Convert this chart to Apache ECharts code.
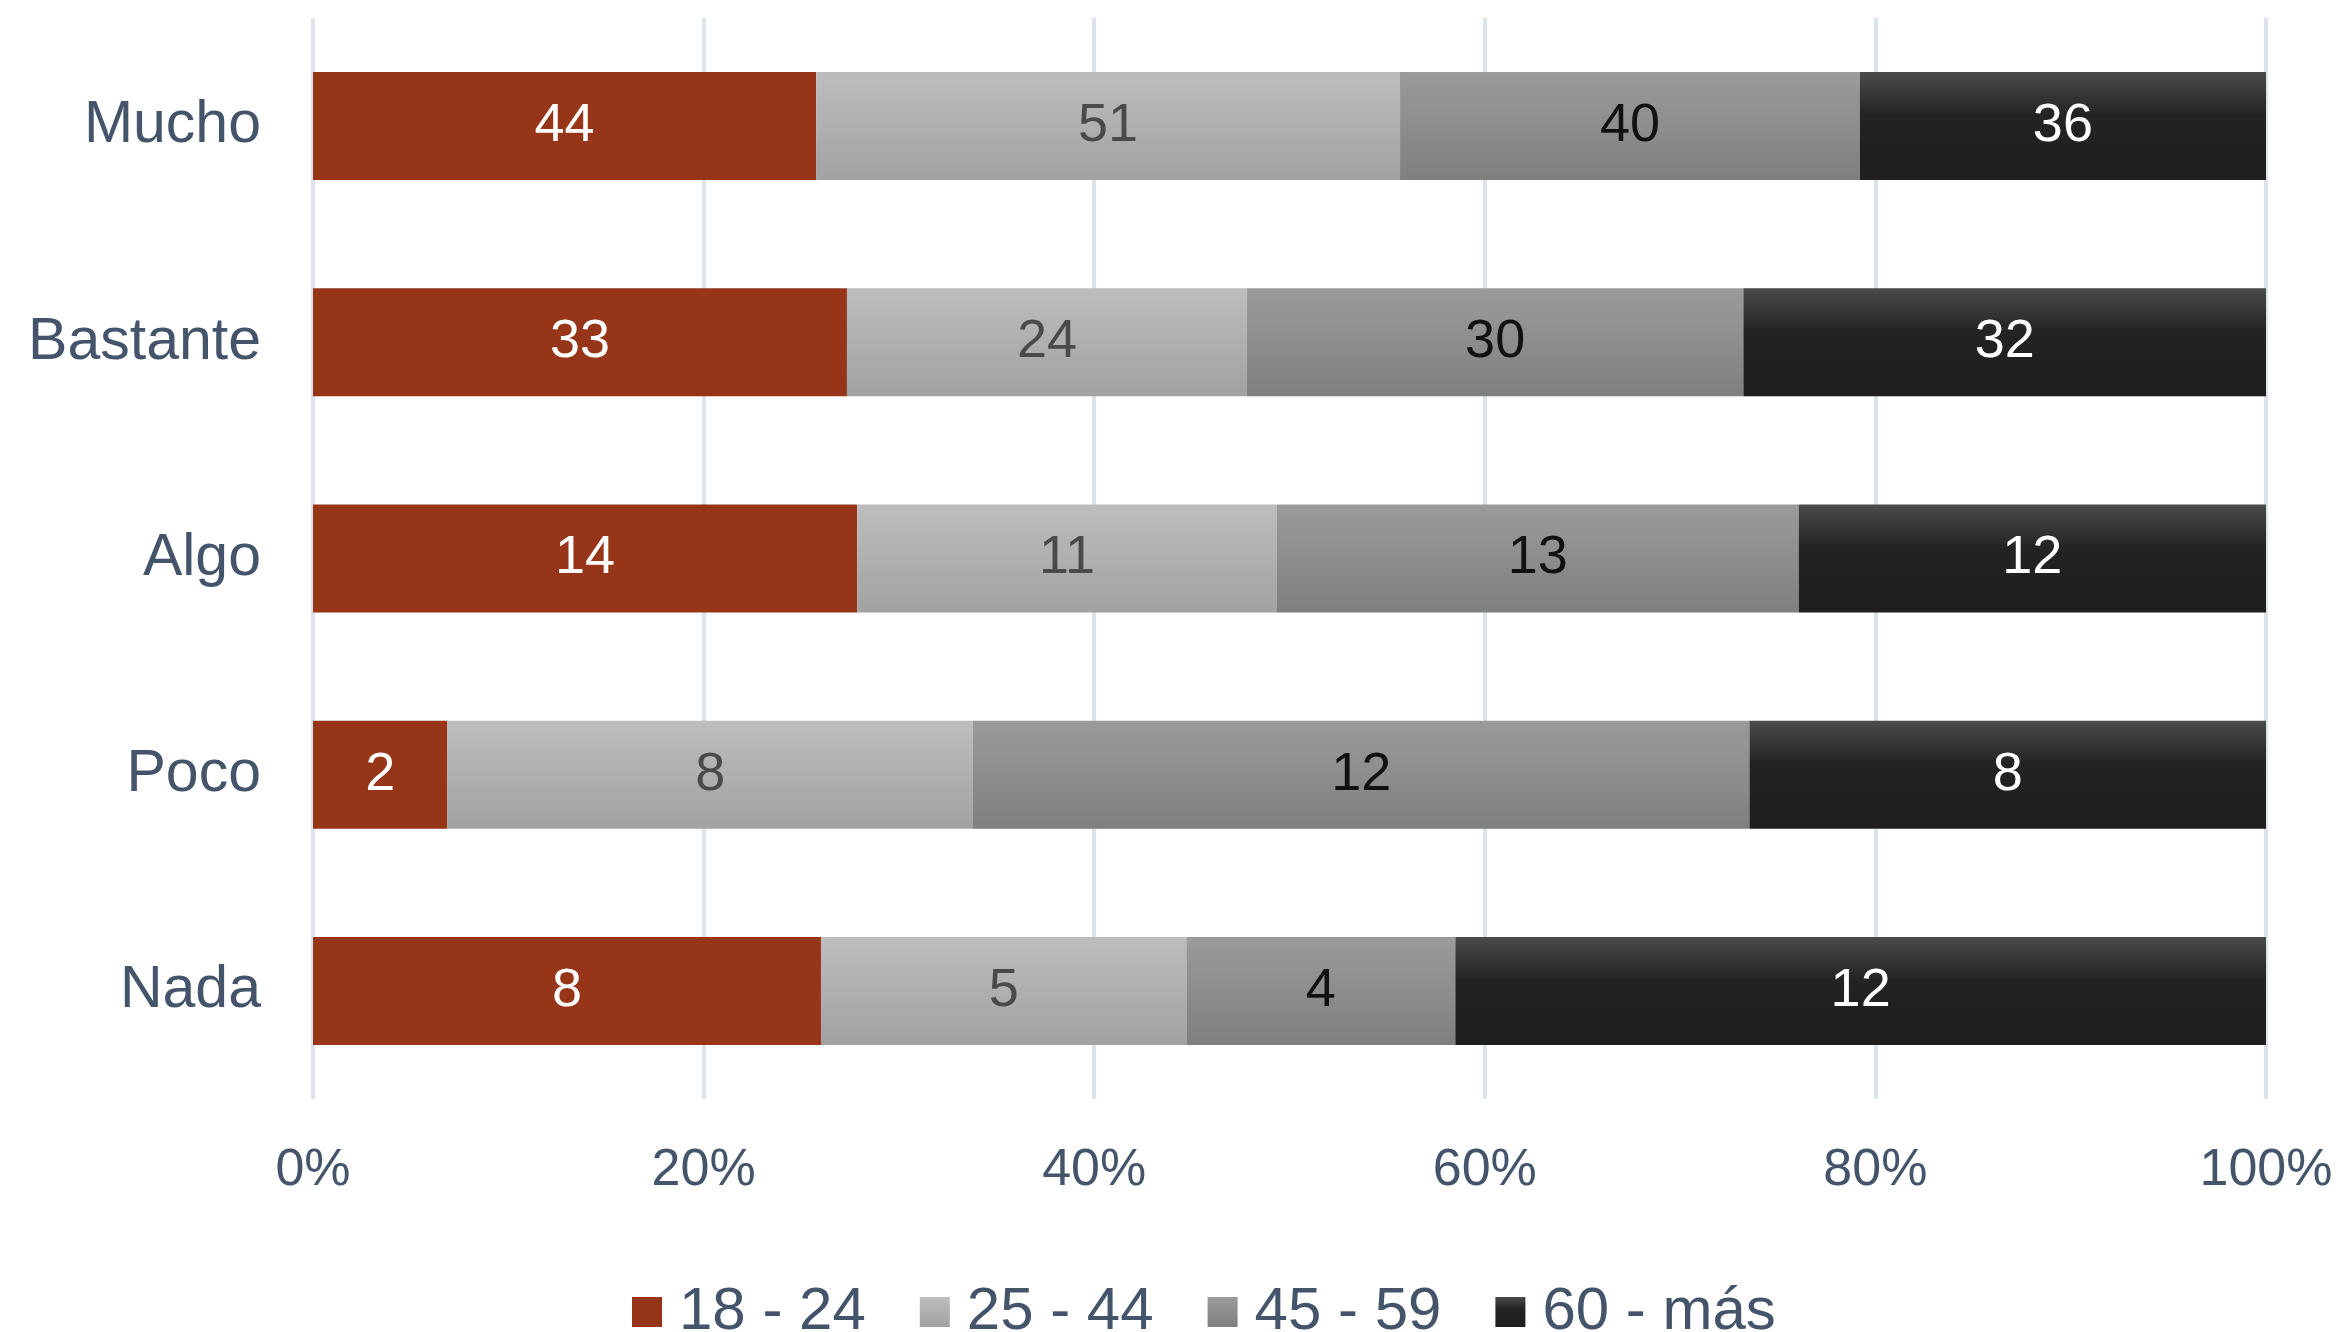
<!DOCTYPE html>
<html>
<head>
<meta charset="utf-8">
<script src="https://cdn.jsdelivr.net/npm/echarts@6/dist/echarts.min.js"></script>
<style>
html,body{margin:0;padding:0;background:#fff;}
#chart{width:2339px;height:1332px;}
</style>
</head>
<body>
<div id="chart"></div>
<script>
var categories = ['Mucho', 'Bastante', 'Algo', 'Poco', 'Nada'];
var seriesNames = ['18 - 24', '25 - 44', '45 - 59', '60 - más'];
// value labels printed on the bars
var lab18_24 = [44, 33, 14, 2, 8];
var lab25_44 = [51, 24, 11, 8, 5];
var lab45_59 = [40, 30, 13, 12, 4];
var lab60_mas = [36, 32, 12, 8, 12];
// segment shares (%)
var pct18_24 = [25.76, 27.34, 27.86, 6.88, 26.01];
var pct25_44 = [29.90, 20.48, 21.50, 26.91, 18.71];
var pct45_59 = [23.54, 25.42, 26.71, 39.76, 13.77];
var pct60_mas = [20.80, 26.76, 23.93, 26.45, 41.51];
var xTicks = [0, 20, 40, 60, 80, 100];

var labels = [lab18_24, lab25_44, lab45_59, lab60_mas];
var shares = [pct18_24, pct25_44, pct45_59, pct60_mas];

function grad(stops) {
  return new echarts.graphic.LinearGradient(0, 0, 0, 1, stops);
}
var fills = [
  '#973518',
  grad([{offset: 0, color: '#bdbdbd'}, {offset: 1, color: '#a2a2a2'}]),
  grad([{offset: 0, color: '#9b9b9b'}, {offset: 1, color: '#7f7f7f'}]),
  grad([{offset: 0, color: '#4b4b4b'}, {offset: 0.4, color: '#232323'}, {offset: 1, color: '#1e1e1e'}])
];
var labelColors = ['#ffffff', '#4a4a4a', '#111111', '#ffffff'];
var FONT = 'Liberation Sans';

var series = shares.map(function (arr, k) {
  return {
    name: seriesNames[k],
    type: 'bar',
    stack: 'total',
    barWidth: 108,
    itemStyle: {color: fills[k]},
    label: {
      show: true,
      position: 'inside',
      color: labelColors[k],
      fontSize: 54,
      fontFamily: FONT,
      formatter: function (p) { return labels[k][p.dataIndex]; }
    },
    emphasis: {disabled: true},
    data: arr
  };
});

var chart = echarts.init(document.getElementById('chart'));
chart.setOption({
  animation: false,
  backgroundColor: '#ffffff',
  grid: {left: 313, right: 73, top: 18, bottom: 233, containLabel: false},
  xAxis: {
    type: 'value',
    min: xTicks[0],
    max: xTicks[xTicks.length - 1],
    interval: xTicks[1] - xTicks[0],
    axisLine: {show: false},
    axisTick: {show: false},
    splitLine: {show: true, lineStyle: {color: '#dde3eb', width: 4}},
    axisLabel: {
      formatter: '{value}%',
      color: '#44546A',
      fontSize: 52,
      fontFamily: FONT,
      margin: 46
    }
  },
  yAxis: {
    type: 'category',
    inverse: true,
    data: categories,
    axisLine: {show: false},
    axisTick: {show: false},
    axisLabel: {
      color: '#44546A',
      fontSize: 59,
      fontFamily: FONT,
      margin: 52
    }
  },
  legend: {
    data: seriesNames,
    left: 627,
    top: 1277,
    itemWidth: 30,
    itemHeight: 30,
    itemGap: 54,
    icon: 'rect',
    textStyle: {
      color: '#44546A',
      fontSize: 60,
      fontFamily: FONT,
      padding: [0, 0, 0, 12]
    }
  },
  series: series
});
</script>
</body>
</html>
